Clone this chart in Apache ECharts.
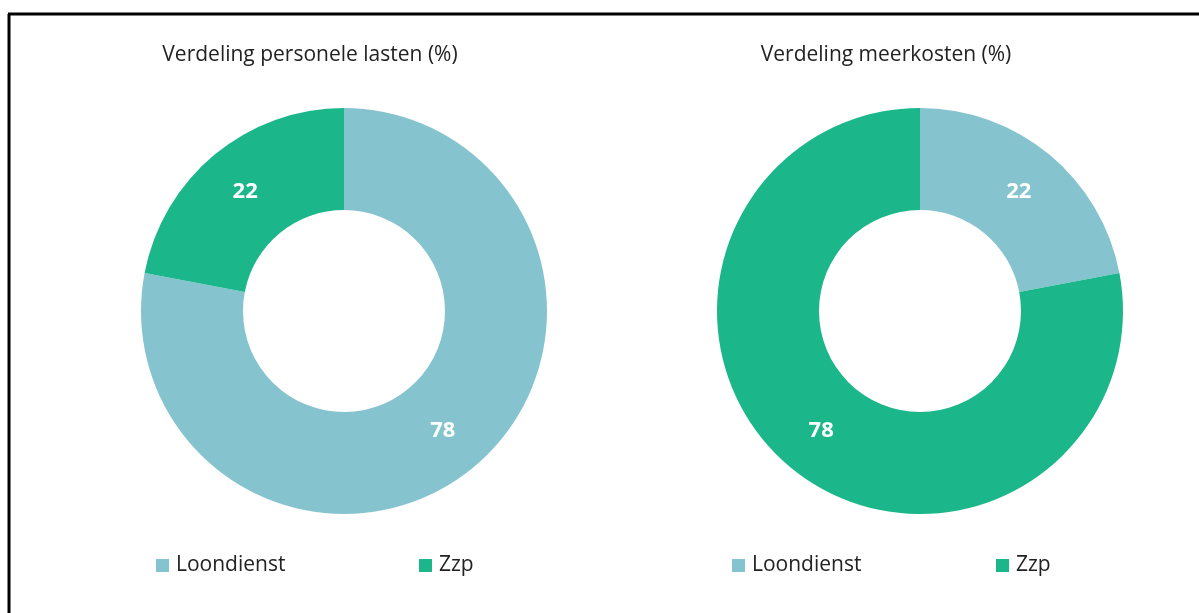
<!DOCTYPE html>
<html>
<head>
<meta charset="utf-8">
<script src="https://cdn.jsdelivr.net/npm/echarts@6/dist/echarts.min.js"></script>
<style>
  html, body { margin: 0; padding: 0; background: #fff; }
  #chart { width: 1199px; height: 613px; }
</style>
</head>
<body>
<div id="chart"></div>
<script>
// data
var categories = ['Loondienst', 'Zzp'];
var personeleLasten = [78, 22];
var meerkosten = [22, 78];
var chartTitles = ['Verdeling personele lasten (%)', 'Verdeling meerkosten (%)'];
var colors = ['#85c4ce', '#1bb68a'];

var fontName = 'Open Sans';
var chart = echarts.init(document.getElementById('chart'));

function makeData(values) {
	var out = [];
	for (var i = 0; i < categories.length; i++) {
		out.push({ name: categories[i], value: values[i], itemStyle: { color: colors[i] } });
	}
	return out;
}

function makePie(values, cx) {
	return {
		type: 'pie',
		center: [cx, 311],
		radius: [101, 203],
		startAngle: 90,
		clockwise: true,
		silent: true,
		avoidLabelOverlap: false,
		label: {
			show: true,
			position: 'inside',
			formatter: '{c}',
			color: '#fff',
			fontFamily: fontName,
			fontWeight: 'bold',
			fontSize: 22
		},
		labelLine: { show: false },
		data: makeData(values)
	};
}

function makeLegend(name, left) {
	return {
		data: [name],
		left: left,
		top: 550,
		icon: 'rect',
		itemWidth: 13,
		itemHeight: 13,
		itemGap: 6,
		selectedMode: false,
		textStyle: { fontFamily: fontName, fontSize: 21, color: '#222', padding: [0, 0, 0, 2] }
	};
}

var option = {
	animation: false,
	title: [
		{ text: chartTitles[0], left: 305, top: 40, textAlign: 'center',
		  textStyle: { fontFamily: fontName, fontSize: 21, fontWeight: 'normal', color: '#222' } },
		{ text: chartTitles[1], left: 881, top: 40, textAlign: 'center',
		  textStyle: { fontFamily: fontName, fontSize: 21, fontWeight: 'normal', color: '#222' } }
	],
	legend: [
		makeLegend(categories[0], 151),
		makeLegend(categories[1], 414),
		makeLegend(categories[0], 727),
		makeLegend(categories[1], 991)
	],
	graphic: [
		{ type: 'line', shape: { x1: 8, y1: 14, x2: 1199, y2: 14 }, style: { stroke: '#000', lineWidth: 3 } },
		{ type: 'line', shape: { x1: 9, y1: 14, x2: 9, y2: 613 }, style: { stroke: '#000', lineWidth: 3 } }
	],
	series: [
		makePie(personeleLasten, 344),
		makePie(meerkosten, 920)
	]
};
chart.setOption(option);
</script>
</body>
</html>
